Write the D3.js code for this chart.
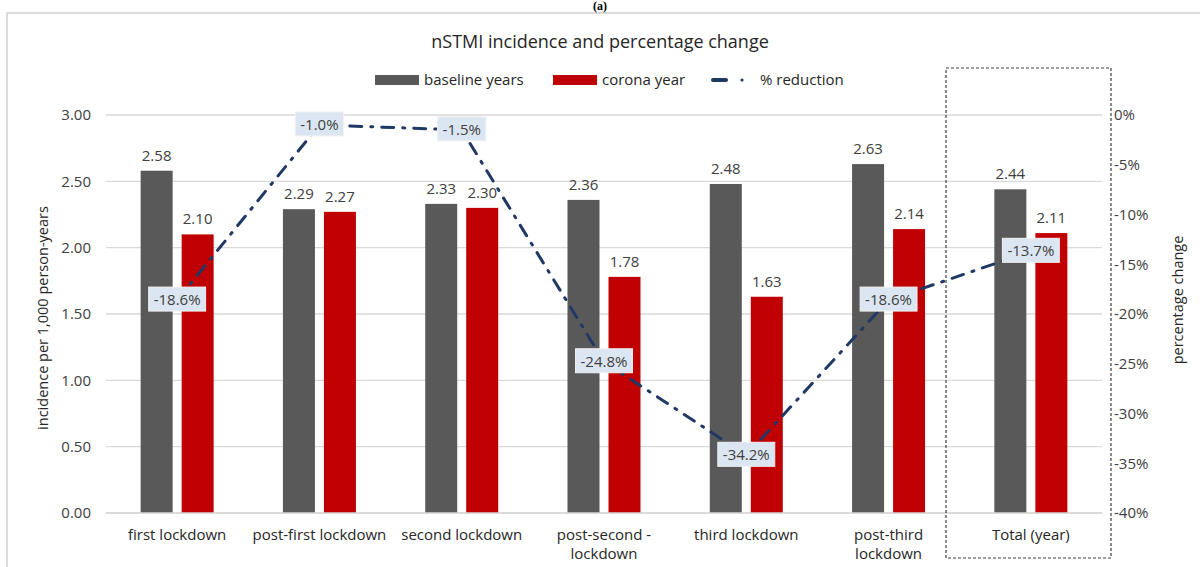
<!DOCTYPE html>
<html>
<head>
<meta charset="utf-8">
<script src="https://cdn.jsdelivr.net/npm/d3@7"></script>
<style>
  html, body { margin: 0; padding: 0; background: #fff; }
  svg { display: block; }
  text { font-family: "Open Sans", "Liberation Sans", sans-serif; fill: #404040; }
</style>
</head>
<body>
<svg id="chart" width="1200" height="567"></svg>
<script>
// Periods (second-line wrap handled by splitting on "|")
const categories = ["first lockdown", "post-first lockdown", "second lockdown", "post-second -|lockdown", "third lockdown", "post-third|lockdown", "Total (year)"];
const baseline = [2.58, 2.29, 2.33, 2.36, 2.48, 2.63, 2.44];
const corona = [2.10, 2.27, 2.30, 1.78, 1.63, 2.14, 2.11];
const pctChange = [-18.6, -1.0, -1.5, -24.8, -34.2, -18.6, -13.7];
const leftTicks = [0, 0.5, 1.0, 1.5, 2.0, 2.5, 3.0];
const rightTicks = [0, -5, -10, -15, -20, -25, -30, -35, -40];

const svg = d3.select("#chart");
const W = 1200, H = 567;
const plot = { left: 106, right: 1102, top: 115, bottom: 513 };
const FS = "15px";

// outer frame
svg.append("path")
  .attr("d", `M7,${H} V13 H${W}`)
  .attr("fill", "none").attr("stroke", "#d0d0d0").attr("stroke-width", 1.5);

svg.append("text").attr("x", 600).attr("y", 10).attr("text-anchor", "middle")
  .style("font-family", "'Liberation Serif', serif").style("font-weight", "bold")
  .style("font-size", "12px").style("fill", "#000").text("(a)");

svg.append("text").attr("x", 600).attr("y", 48).attr("text-anchor", "middle")
  .style("font-size", "18px").style("fill", "#262626")
  .text("nSTMI incidence and percentage change");

const x = d3.scaleBand().domain(d3.range(categories.length))
  .range([plot.left, plot.right]).paddingInner(0).paddingOuter(0);
const yL = d3.scaleLinear().domain([0, 3]).range([plot.bottom, plot.top]);
const yR = d3.scaleLinear().domain([-40, 0]).range([plot.bottom, plot.top]);

// gridlines
svg.append("g").selectAll("line").data(leftTicks).join("line")
  .attr("x1", plot.left).attr("x2", plot.right)
  .attr("y1", d => yL(d)).attr("y2", d => yL(d))
  .attr("stroke", "#d9d9d9").attr("stroke-width", 1.3);

// left axis labels
const leftAxis = d3.axisLeft(yL).tickValues(leftTicks).tickFormat(d3.format(".2f")).tickSize(0).tickPadding(15);
const gl = svg.append("g").attr("transform", `translate(${plot.left},0)`).call(leftAxis);
gl.select(".domain").remove();
gl.selectAll("text").style("font-size", FS).style("fill", "#404040");

// right axis labels
const rightAxis = d3.axisRight(yR).tickValues(rightTicks).tickFormat(d => d + "%").tickSize(0).tickPadding(12);
const gr = svg.append("g").attr("transform", `translate(${plot.right},0)`).call(rightAxis);
gr.select(".domain").remove();
gr.selectAll("text").style("font-size", FS).style("fill", "#404040");

// axis titles
svg.append("text").attr("transform", `translate(48,${(plot.top + plot.bottom) / 2 + 4}) rotate(-90)`)
  .attr("text-anchor", "middle").style("font-size", "14.5px").style("fill", "#262626")
  .text("incidence per 1,000 person-years");
svg.append("text").attr("transform", `translate(1183,${(plot.top + plot.bottom) / 2 - 14}) rotate(-90)`)
  .attr("text-anchor", "middle").style("font-size", "14.5px").style("fill", "#262626")
  .text("percentage change");

// bars
const barW = 32, gap = 9;
const cx = i => x(i) + x.bandwidth() / 2;
const gBars = svg.append("g");
gBars.selectAll("rect.base").data(baseline).join("rect").attr("class", "base")
  .attr("x", (d, i) => cx(i) - gap / 2 - barW).attr("width", barW)
  .attr("y", d => yL(d)).attr("height", d => yL(0) - yL(d))
  .attr("fill", "#595959");
gBars.selectAll("rect.cor").data(corona).join("rect").attr("class", "cor")
  .attr("x", (d, i) => cx(i) + gap / 2).attr("width", barW)
  .attr("y", d => yL(d)).attr("height", d => yL(0) - yL(d))
  .attr("fill", "#c00000");

// bar value labels
gBars.selectAll("text.bl").data(baseline).join("text").attr("class", "bl")
  .attr("x", (d, i) => cx(i) - gap / 2 - barW / 2).attr("y", d => yL(d) - 10)
  .attr("text-anchor", "middle").style("font-size", FS).text(d => d.toFixed(2));
gBars.selectAll("text.cl").data(corona).join("text").attr("class", "cl")
  .attr("x", (d, i) => cx(i) + gap / 2 + barW / 2).attr("y", d => yL(d) - 10)
  .attr("text-anchor", "middle").style("font-size", FS).text(d => d.toFixed(2));

// x axis line
svg.append("line").attr("x1", plot.left).attr("x2", plot.right)
  .attr("y1", plot.bottom).attr("y2", plot.bottom)
  .attr("stroke", "#d9d9d9").attr("stroke-width", 1.3);

// category labels
const gCat = svg.append("g");
categories.forEach((c, i) => {
  const t = gCat.append("text").attr("x", cx(i)).attr("y", 540)
    .attr("text-anchor", "middle").style("font-size", FS).style("fill", "#262626");
  c.split("|").forEach((ln, k) => {
    t.append("tspan").attr("x", cx(i)).attr("dy", k === 0 ? 0 : 19).text(ln);
  });
});

// percentage line
const line = d3.line().x((d, i) => cx(i)).y(d => yR(d));
svg.append("path").datum(pctChange).attr("d", line)
  .attr("fill", "none").attr("stroke", "#1f3864").attr("stroke-width", 3)
  .attr("stroke-dasharray", "12,9,2,9").attr("stroke-linecap", "round");

// percentage labels
const gP = svg.append("g");
pctChange.forEach((v, i) => {
  const g = gP.append("g").attr("transform", `translate(${cx(i)},${yR(v)})`);
  const txt = g.append("text").attr("text-anchor", "middle").attr("y", 5)
    .style("font-size", FS).style("fill", "#404040").text(v.toFixed(1) + "%");
  const bb = txt.node().getBBox();
  g.insert("rect", "text").attr("x", bb.x - 5).attr("y", bb.y - 2)
    .attr("width", bb.width + 10).attr("height", bb.height + 4)
    .attr("fill", "#dce6f2").attr("stroke", "#f2f2f2");
});

// dashed frame around total column
svg.append("rect").attr("x", 946).attr("y", 68).attr("width", 165).attr("height", 490)
  .attr("fill", "none").attr("stroke", "#404040").attr("stroke-width", 1.2)
  .attr("stroke-dasharray", "3,2");

// legend
const legend = svg.append("g");
const items = [
  { type: "rect", color: "#595959", label: "baseline years", x: 375 },
  { type: "rect", color: "#c00000", label: "corona year", x: 553 },
  { type: "line", color: "#1f3864", label: "% reduction", x: 712 }
];
items.forEach(it => {
  if (it.type === "rect") {
    legend.append("rect").attr("x", it.x).attr("y", 75).attr("width", 44).attr("height", 10).attr("fill", it.color);
    legend.append("text").attr("x", it.x + 49).attr("y", 85).style("font-size", FS).style("fill", "#262626").text(it.label);
  } else {
    legend.append("line").attr("x1", it.x + 1).attr("x2", it.x + 14).attr("y1", 80).attr("y2", 80)
      .attr("stroke", it.color).attr("stroke-width", 4).attr("stroke-linecap", "round");
    legend.append("circle").attr("cx", it.x + 30).attr("cy", 80).attr("r", 1.6).attr("fill", it.color);
    legend.append("text").attr("x", it.x + 48).attr("y", 85).style("font-size", FS).style("fill", "#262626").text(it.label);
  }
});
</script>
</body>
</html>
